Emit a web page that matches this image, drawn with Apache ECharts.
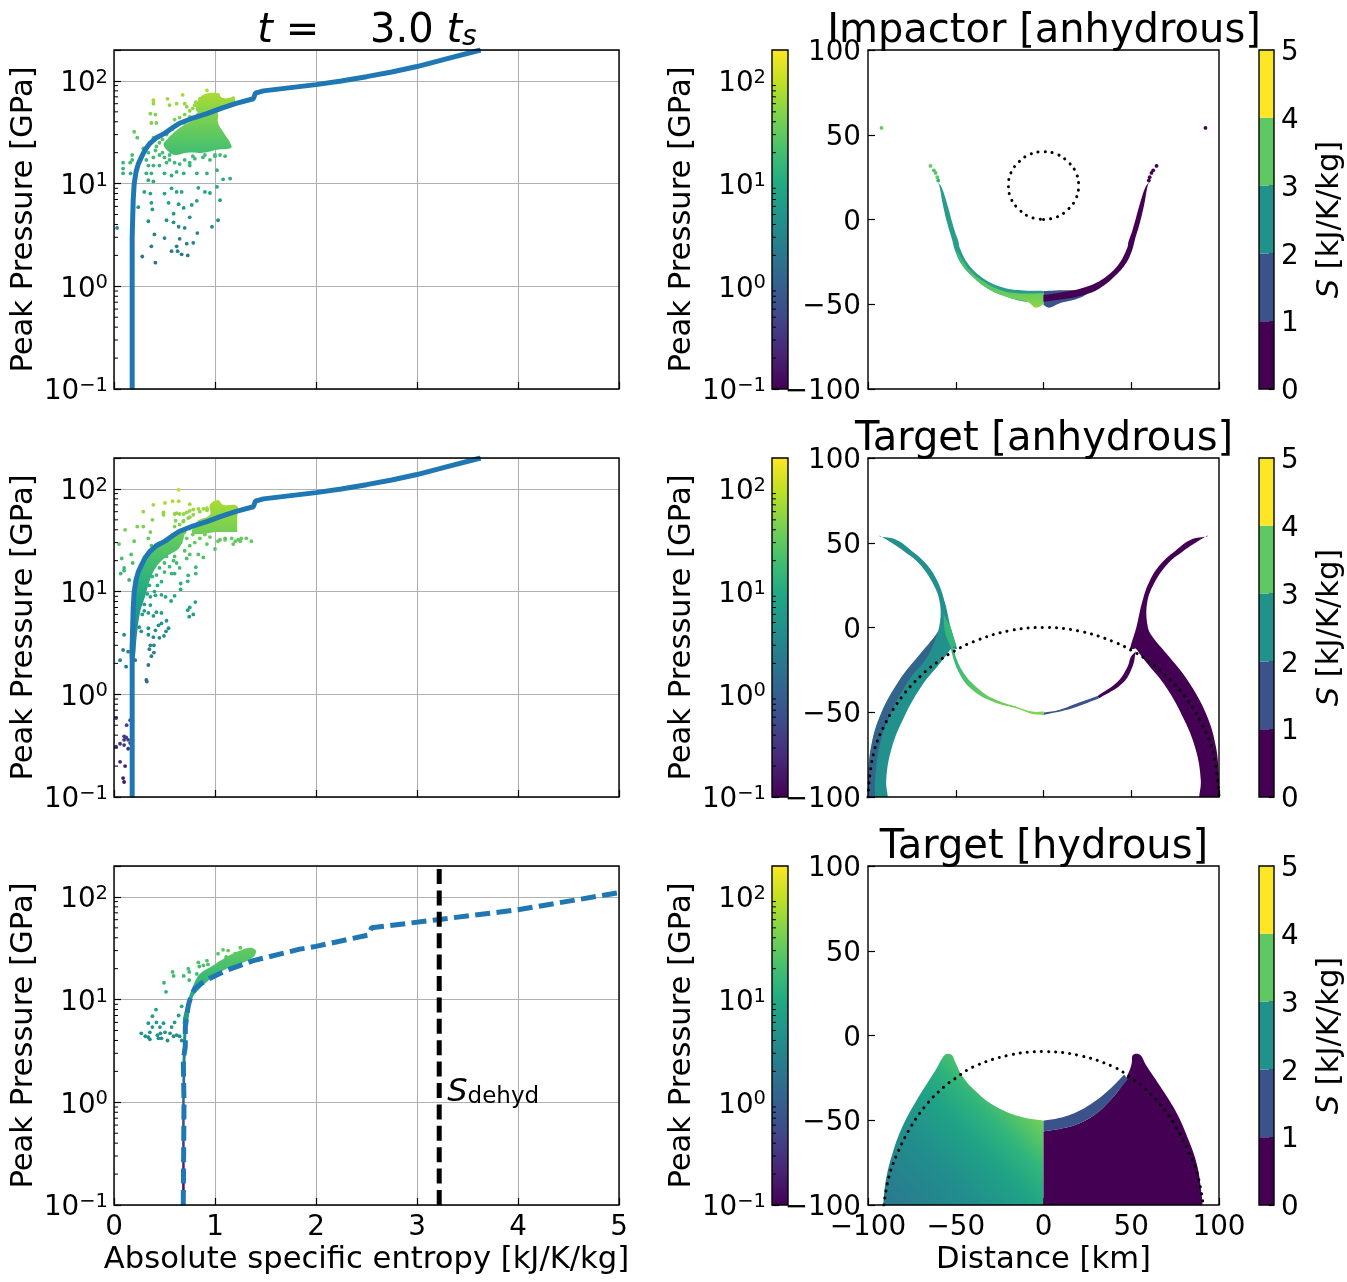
<!DOCTYPE html>
<html>
<head>
<meta charset="utf-8">
<title>Peak pressure and entropy</title>
<style>
html, body { margin: 0; padding: 0; background: #fff; }
#chart { width: 1347px; height: 1282px; }
</style>
<script src="https://cdn.jsdelivr.net/npm/echarts@6/dist/echarts.min.js"></script>
</head>
<body>
<div id="chart"></div>
<script>
// colour tables
var viridis = ['#440154','#482475','#414487','#355f8d','#2a788e','#21918c','#22a884','#44bf70','#7ad151','#bddf26','#fde725'];
var entropyBands = ['#440154','#3b528b','#21918c','#5ec962','#fde725'];
var entropyTicks = [0, 1, 2, 3, 4, 5];
var minorPressure = [.2,.3,.4,.5,.6,.7,.8,.9,2,3,4,5,6,7,8,9,20,30,40,50,60,70,80,90];

var titles = ['Impactor [anhydrous]', 'Target [anhydrous]', 'Target [hydrous]'];

// S [kJ/K/kg], P [GPa]
var hugoniotAnhydrous = [[.18,.1],[.18,3],[.19,6.9],[.2,10],[.218,13],[.24,15.5],[.274,18.3],[.31,21.5],[.356,24.7],[.42,28],[.505,31],[.58,35],[.65,38.7],[.78,43.5],[.92,48],[1.06,54],[1.21,60.5],[1.38,67],[1.4,76],[1.48,80],[1.75,86],[2,92],[2.25,100],[2.5,110],[2.75,122],[3,138],[3.3,165],[3.63,200]];
var hugoniotHydrous = [[.686,.1],[.693,1],[.686,2.6],[.706,3.5],[.706,5.4],[.736,8.8],[.765,11],[.8,12.8],[.86,14.3],[.917,15.5],[1.115,19.3],[1.38,24],[1.84,31],[2,33],[2.52,42.6],[2.55,50],[3.2,60],[4,75],[5,110]];
var dehydEntropy = [[3.22,.1],[3.22,200]];

var impactorPoints = [[.39,65],[.39,60],[.53,67],[.68,73],[.55,58],[.62,60],[.7,60],[.36,48],[.41,47],[.42,39],[.37,39],[.65,44],[.2,32],[.23,28],[.39,28],[.29,22],[.34,20],[.41,21],[.45,25],[.18,19],[.18,17],[.09,16],[.16,16],[.09,14],[.09,12.6],[.165,12.6],[.26,17],[.32,17],[.39,18],[.34,15],[.39,15],[.45,15],[.52,16],[.32,12.6],[.37,12.6],[.5,12.6],[.57,12],[.62,13],[.69,12.6],[.75,15],[.82,12.6],[.92,12.6],[1.02,13.5],[1.15,11.2],[1.08,11],[1.02,9.3],[.34,10.8],[.39,10.5],[.3,8.3],[.36,8],[.5,8],[.57,9],[.62,8.3],[.67,8.3],[.835,9.1],[.9,8.3],[.95,8.1],[1.05,6.9],[.37,6.5],[.24,5.9],[.54,6.5],[.64,6.3],[.77,6.2],[.82,6.8],[.38,5.6],[.59,5.1],[.69,5.8],[.75,4.7],[.34,4.3],[.52,4.4],[.59,4.2],[.64,3.8],[.7,3.7],[1.03,4.4],[.97,3.8],[.03,3.7],[.4,3.2],[.5,2.95],[.65,2.9],[.825,3.3],[.37,2.45],[.62,2.45],[.57,2.2],[.63,2.2],[.72,2.6],[.785,2.65],[.67,2.05],[.73,2],[.28,1.95],[.41,1.7],[.92,81],[.85,67],[.81,62],[1.03,73],[1.08,65],[1.18,68],[.98,62],[.75,45],[.84,52],[.58,34],[.66,24],[.78,18.5],[.9,19],[1,19],[1.1,18.5],[.55,19],[.48,20],[.5,18],[.55,17],[.6,16],[.65,15.5],[.7,17],[.75,16],[.8,17.5],[.88,18],[.95,17],[1,18.5],[1.05,19],[.45,19],[.42,23],[.48,27],[.52,30],[.6,36],[.7,39],[.83,47],[.7,47],[.75,51],[.78,54],[.72,56],[.8,58],[.85,60],[.6,42]];
var impactorDense = [[.505,25.7],[.653,35],[.85,44],[1.02,49],[1.03,39],[1.08,32],[1.15,25],[1.16,22.4],[1.02,21.4],[.88,20],[.72,20],[.6,19],[.52,21.4],[.49,24]];
var impactorTop = [[.82,61],[.88,73],[1.02,76],[1.08,68],[1.18,68],[1.2,62],[1.12,55],[1.02,49],[.9,47],[.82,50]];

var targetPoints = [[.64,98],[.39,70],[.505,73],[.58,76],[.64,76],[.75,71],[.29,60],[.38,50],[.49,59],[.49,56],[.6,57],[.23,43],[.29,43],[.11,40],[.2,31],[.05,29],[.076,21],[.17,23],[.185,19],[.1,17],[.1,16],[.066,15],[.15,13],[.36,38],[.34,33],[.37,28],[.42,25],[.52,22],[.59,20],[.65,17],[.57,15],[.6,15],[.735,14.4],[.81,17.3],[.81,15],[.73,12.6],[.66,12],[.66,10.5],[.6,9.1],[.565,8.1],[.51,8.9],[.47,9.3],[.41,9.2],[.36,8.9],[.805,7.9],[.75,7],[.73,6.6],[.785,6],[.745,5.7],[.36,7.4],[.42,6.3],[.34,6.2],[.39,5.8],[.47,6.2],[.52,5.2],[.47,4.9],[.44,4.7],[.54,4.4],[.515,4.1],[.41,4.2],[.34,4.4],[.34,3.8],[.39,3.6],[.45,3.55],[.495,3.7],[.27,4.1],[.36,3],[.395,3],[.35,2.75],[.395,2.55],[.37,2.35],[.34,1.93],[.32,1.38],[.325,1.33],[.1,3.8],[.09,2.7],[.14,2.6],[.06,2.15],[.12,1.86],[.21,2.15],[.02,.585],[.125,.5],[.16,.56],[.1,.39],[.12,.38],[.1,.36],[.14,.36],[.06,.33],[.02,.31],[.1,.32],[.14,.295],[.16,.335],[.06,.22],[.11,.2],[.09,.153],[.1,.14],[1.31,33],[1.36,31],[1.18,29],[1.23,32],[1.1,33],[1.05,32],[.92,29],[1,26],[.885,21.5],[.835,23],[.75,23],[.72,21],[.62,58],[.65,57],[.69,57],[.72,59],[.75,61],[.785,63],[.835,64],[.885,64],[.92,65],[.6,43],[.65,45],[.685,48],[.735,52],[.785,56],[.85,60],[.92,62],[.65,37],[.7,38],[.75,41],[.8,43],[.95,34],[1.03,31],[1.1,32],[1.165,33],[1.2,31],[1.26,33],[1.25,31],[.61,49],[.69,49],[.75,53],[.4,20],[.45,22],[.5,19],[.55,24],[.6,22],[.62,19],[.45,17],[.38,14],[.42,14.5],[.5,15.5],[.55,17.5],[.47,12.5],[.43,11.5],[.35,11.5],[.4,10],[.33,9.5],[.3,7.5],[.28,6],[.25,4.5],[.3,6.5],[.7,25],[.75,28],[.8,30],[.85,33],[.9,36],[.95,40],[.66,30],[.72,33],[.78,36],[.55,28]];
var targetDense = [[.158,2.16],[.175,5],[.19,10.4],[.225,15],[.307,22],[.42,30],[.49,31.5],[.69,40],[.65,27],[.52,22],[.42,17.5],[.356,13],[.307,8.9],[.257,6.2],[.224,3.6],[.198,2.16]];
var targetTop = [[.95,70],[1.03,78],[1.08,70],[1.22,68],[1.22,52],[1.22,52],[1.22,38],[1.22,38],[1.02,38],[.78,37],[.82,48],[.95,56]];

var hydrousPoints = [[.27,4.7],[.31,4.4],[.34,4.3],[.355,4.1],[.34,5.9],[.355,4.8],[.38,5.4],[.38,6.9],[.416,8],[.42,6],[.43,4.5],[.44,4.2],[.455,5.4],[.46,4.7],[.47,4.2],[.49,5.9],[.505,4.8],[.53,4],[.555,4.7],[.57,5.4],[.59,4.4],[.6,6],[.62,4.5],[.65,4.4],[.64,7],[.67,8.6],[.67,4],[.495,14.6],[.515,11.9],[.58,18.6],[.59,17],[.69,17],[.745,15.5],[.735,20],[.745,18.6],[.835,23],[.845,21],[.92,24],[.885,21.5],[.93,22],[1.03,28],[1.08,30.5],[1.13,30],[1.11,26],[1.2,28],[1.25,32],[.82,17.8]];
var hydrousDense = [[.68,5.9],[.735,10],[.8,14.8],[.85,17.8],[.98,21.5],[1.115,26],[1.25,30],[1.35,32],[1.405,30],[1.38,26],[1.28,23],[1.115,20],[.98,16.6],[.85,12.8],[.77,10],[.725,5.9]];
var hydrousStem = [[.675,.1],[.675,1],[.68,3],[.69,5.9],[.72,5.9],[.71,3],[.7,1],[.7,.1]];

// distance [km]; doubled vertices keep a sharp corner when the outline is smoothed
var impactorBand = [[0,-42.2],[0,-42.2],[12.7,-41.8],[24.1,-39.8],[35.5,-33.9],[43.1,-26],[47.9,-16.2],[48.4,-13.2],[50.7,-6.3],[55.5,11.4],[58,18.9],[60,22],[60,22],[59,18.3],[57.5,9.5],[54.8,-2.4],[52,-12.2],[50.5,-18.1],[46.9,-26],[41.2,-32.9],[31.7,-40.8],[20.3,-45.8],[8.9,-48.7],[0,-49.3],[0,-49.3]];
var impactorBlue = [[0,-42.2],[0,-42.2],[14,-41.8],[25,-43],[20,-46.5],[8.9,-49.5],[3.2,-52],[0,-50.5],[0,-50.5]];
var impactorPurple = [[0,-44.5],[0,-44.5],[10,-43],[24.1,-39.8],[35.5,-33.9],[43.1,-26],[47.9,-16.2],[48.4,-13.2],[50.7,-6.3],[55.5,11.4],[58,18.9],[60,22],[60,22],[59,18.3],[57.5,9.5],[54.8,-2.4],[52,-12.2],[50.5,-18.1],[46.9,-26],[41.2,-32.9],[31.7,-40.8],[20.3,-45.3],[8.9,-47.3],[0,-48.5],[0,-48.5]];
var impactorGreen = [[0,-43.5],[0,-43.5],[-15,-43.5],[-25,-41.5],[-35,-36],[-42,-30],[-46,-24],[-49.8,-18.1],[-46.9,-26],[-41.2,-32.9],[-31.7,-40.8],[-20.3,-45.8],[-8.9,-48.7],[-4.4,-52],[0,-50],[0,-50]];
// x, y, P for the left half dots
var impactorDotsLeft = [[-92.3,54,32],[-64.4,31.6,32],[-62.5,29,26],[-61.5,27.5,24],[-60.5,25,30],[-60,23,14]];
var impactorDotsRight = [[92.3,54],[64.4,31.6],[62.5,29],[61.5,27.5],[60.5,25],[60,23]];
var impactorCircle = [[0,0],[7.7,1.5],[14,6],[18.5,12.3],[20,20],[18.5,27.7],[14,34],[7.7,38.5],[0,40],[-7.7,38.5],[-14,34],[-18.5,27.7],[-20,20],[-18.5,12.3],[-14,6],[-7.7,1.5],[0,0]];

var targetBand = [[93.4,53.7],[93.4,53.7],[84.5,52],[75.4,45.5],[66.9,37.6],[60.2,26.9],[56,14.1],[53,.4],[49.8,-10.4],[49.2,-12.9],[49.2,-12.9],[52.6,-12.4],[52.6,-12.4],[58.3,-20.2],[69.7,-34.9],[80.2,-54.5],[86.8,-72.2],[89.6,-89.8],[88.7,-100],[88.7,-100],[100,-100],[100,-100],[100,-89.8],[98.2,-70.2],[92.5,-50.6],[82,-31],[71.6,-17.3],[62.1,-5.5],[59.4,.4],[59,14.1],[63,25.9],[70.8,37.6],[79.5,45],[87.5,50.6],[93.4,54.3]];
var targetOuterStrip = [[-100,-100],[-100,-100],[-100,-89.8],[-98.2,-70.2],[-92.5,-50.6],[-82,-31],[-71.6,-17.3],[-62.1,-5.5],[-60,-3],[-60,-3],[-66,-17],[-77,-31.5],[-87,-50.6],[-93,-68],[-96,-90],[-96,-100],[-96,-100]];
var targetGreenEdge = [[-53,.4],[-53,.4],[-49.8,-10.4],[-49.8,-10.4],[-52.6,-12.4],[-52.6,-12.4],[-56,-3],[-57,8],[-57,8]];
var targetPurpleU = [[49.8,-17.3],[47.9,-23.1],[42.2,-32],[30.8,-40.4],[30.8,-40.4],[31.7,-41.8],[31.7,-41.8],[45,-32.9],[50.7,-23.1],[52.6,-14],[52.6,-14]];
var targetBlueU = [[30.8,-40.4],[30.8,-40.4],[16.5,-45.7],[8.9,-48.6],[0,-50.2],[0,-50.2],[0,-51.6],[0,-51.6],[16.5,-47.6],[31.7,-41.8],[31.7,-41.8]];
var targetGreenU = [[-52.8,-12.4],[-48,-27],[-40.5,-36.9],[-29,-43.7],[-13.9,-48.2],[-6.3,-51],[0,-51.6],[0,-51.6],[0,-49.6],[0,-49.6],[-6.3,-49.6],[-13.9,-47.3],[-29,-41.8],[-39.5,-33.9],[-46,-26],[-50,-17.3],[-50.9,-13.3]];
var targetArc = [[-100,-100],[-97,-75],[-90,-56.4],[-80,-40],[-70,-28.6],[-60,-20],[-52,-14.6],[-40,-8.4],[-20,-2],[0,0],[20,-2],[40,-8.4],[52,-14.6],[60,-20],[70,-28.6],[80,-40],[90,-56.4],[97,-75],[100,-100]];

var hydrousPurple = [[0,-100],[0,-100],[0,-56.6],[0,-56.6],[8.9,-55.2],[18.4,-52.7],[27.9,-47.7],[37.4,-38.9],[45,-29],[48.8,-21.1],[50.3,-16.2],[50.7,-11.8],[53,-10.7],[55.5,-11.8],[58.3,-17.2],[65.9,-29],[75.4,-44.8],[83,-62.5],[87.7,-77.3],[90.2,-95],[90.6,-100],[90.6,-100]];
var hydrousBlue = [[0,-50.3],[0,-50.3],[8.9,-48.7],[18.4,-45.4],[27.9,-39.8],[37.4,-32],[46,-23],[46,-23],[48,-26],[48,-26],[37.4,-38.9],[27.9,-47.7],[18.4,-52.7],[8.9,-55.2],[0,-56.6],[0,-56.6]];
var hydrousLeft = [[0,-100],[0,-100],[0,-50.3],[0,-50.3],[-13.9,-47.7],[-29,-40.8],[-38.6,-32.9],[-46.2,-24],[-50.9,-14.2],[-51.9,-11.8],[-54.1,-10.7],[-56.6,-11.8],[-61.3,-20.1],[-72.7,-38.9],[-80.3,-53.6],[-86,-69.4],[-89.8,-85.2],[-91.4,-100],[-91.4,-100]];
var hydrousArc = [[-91,-100],[-88,-83],[-83,-69],[-75.4,-53.6],[-65.9,-39.8],[-56.4,-30],[-50.7,-25.6],[-40,-18.5],[-20,-11.7],[0,-9.5],[20,-11.7],[40,-18.5],[50.7,-25.6],[56.4,-30],[65.9,-39.8],[75.4,-53.6],[83,-69],[88,-83],[91,-100]];

var FONT = 'DejaVu Sans';
var TICK = 27.8;
var LABEL = 30.6;
var TITLE = 40;
var DASH = [15, 6.4];
var rowTops = [50, 458, 866];
var rowH = 339;
var cols = [[114, 505], [772, 16], [868, 351], [1259, 17]];

function mirror(pts) { return pts.map(function (p) { return [-p[0], p[1]]; }); }

function pressureT(p) { return (Math.log10(p) + 1) / (Math.log10(200) + 1); }

function lerpColor(t) {
    t = Math.max(0, Math.min(.9999, t)) * (viridis.length - 1);
    var i = Math.floor(t), f = t - i;
    var a = echarts.color.parse(viridis[i]), b = echarts.color.parse(viridis[i + 1]);
    return 'rgb(' + [0, 1, 2].map(function (k) { return Math.round(a[k] + (b[k] - a[k]) * f); }).join(',') + ')';
}

function gradient(x, y, x2, y2, stops) {
    return new echarts.graphic.LinearGradient(x, y, x2, y2, stops.map(function (s) { return { offset: s[0], color: s[1] }; }));
}

// vertical fill following the pressure colour scale over the polygon's range
function pressureFill(pts) {
    var ps = pts.map(function (p) { return p[1]; });
    var hi = pressureT(Math.max.apply(null, ps)), lo = pressureT(Math.min.apply(null, ps));
    var stops = [];
    for (var i = 0; i <= 6; i++) stops.push([i / 6, lerpColor(hi + (lo - hi) * i / 6)]);
    return gradient(0, 0, 0, 1, stops);
}

function polygon(g, pts, fill, z, opts) {
    opts = opts || {};
    return {
        type: 'custom', coordinateSystem: 'cartesian2d', xAxisIndex: g, yAxisIndex: g,
        clip: !opts.noClip, silent: true, z: z, data: [pts[0]],
        renderItem: function (params, api) {
            return {
                type: 'polygon',
                shape: { points: pts.map(function (q) { return api.coord(q); }), smooth: opts.sharp ? 0 : .4 },
                style: { fill: fill || 'none', stroke: opts.stroke || 'none', lineWidth: opts.stroke ? 1.4 : 0 }
            };
        }
    };
}

function dots(g, pts, colorFn, z) {
    return {
        type: 'scatter', xAxisIndex: g, yAxisIndex: g, data: pts, symbolSize: 3.8, z: z, silent: true,
        itemStyle: { color: colorFn, opacity: 1 }
    };
}
function byPressure(params) { return lerpColor(pressureT(params.value[1])); }
function byThird(params) { return lerpColor(pressureT(params.value[2])); }

function line(g, pts, color, width, type, z, cap, smooth) {
    return {
        type: 'line', xAxisIndex: g, yAxisIndex: g, data: pts, showSymbol: false, silent: true, z: z, clip: true,
        smooth: smooth || false,
        lineStyle: { color: color, width: width, type: type || 'solid', cap: cap || 'butt' }
    };
}

function minorTicks(g) {
    return {
        type: 'custom', coordinateSystem: 'cartesian2d', xAxisIndex: g, yAxisIndex: g, silent: true, z: 6,
        data: minorPressure.map(function (p) { return [0, p]; }),
        renderItem: function (params, api) {
            var c = api.coord([api.value(0), api.value(1)]);
            return { type: 'line', shape: { x1: c[0], y1: c[1], x2: c[0] + 4, y2: c[1] }, style: { stroke: '#000', lineWidth: 1 } };
        }
    };
}

var supRich = {
    base: { fontSize: TICK, fontFamily: FONT, color: '#000' },
    sup: { fontSize: 19.5, fontFamily: FONT, color: '#000', padding: [0, 0, 12, 0] }
};
var plainRich = { n: { fontSize: TICK, fontFamily: FONT, color: '#000', padding: [6, 0, 0, 0] } };
function logLabel(v) {
    var e = Math.round(Math.log10(v));
    if (Math.abs(Math.pow(10, e) - v) > 1e-6 * v) return '';
    return '{base|10}{sup|' + String(e).replace('-', '\u2212') + '}';
}
function minusLabel(v) { return String(v).replace('-', '\u2212'); }
function shiftedLabel(v) { return '{n|' + minusLabel(v) + '}'; }

var grids = [], xAxes = [], yAxes = [], series = [];

rowTops.forEach(function (top, r) {
    cols.forEach(function (c, col) {
        var g = r * 4 + col;
        var bottom = r === 2;
        grids.push({ left: c[0], top: top, width: c[1], height: rowH, show: false });

        var tickX = { show: true, inside: true, length: 7, lineStyle: { color: '#000', width: 1.2 } };
        var xa = { gridIndex: g, type: 'value', silent: true };
        if (col === 0) {
            Object.assign(xa, {
                min: 0, max: 5, interval: 1, axisLine: { show: false, onZero: false }, axisTick: tickX,
                splitLine: { show: true, lineStyle: { color: '#b0b0b0', width: 1.1 } },
                axisLabel: { show: bottom, fontSize: TICK, color: '#000', margin: 9, fontFamily: FONT }
            });
            if (bottom) Object.assign(xa, {
                name: 'Absolute specific entropy [kJ/K/kg]', nameLocation: 'middle', nameGap: 40,
                nameTextStyle: { fontSize: LABEL, color: '#000', fontFamily: FONT }
            });
        } else if (col === 2) {
            Object.assign(xa, {
                min: -100, max: 100, interval: 50, axisLine: { show: false, onZero: false }, axisTick: tickX,
                splitLine: { show: false },
                axisLabel: { show: bottom, fontSize: TICK, color: '#000', margin: 9, fontFamily: FONT, formatter: minusLabel }
            });
            if (bottom) Object.assign(xa, {
                name: 'Distance [km]', nameLocation: 'middle', nameGap: 40,
                nameTextStyle: { fontSize: LABEL, color: '#000', fontFamily: FONT }
            });
        } else {
            Object.assign(xa, { min: 0, max: 1, show: false });
        }
        xAxes.push(xa);

        var tickY = { show: true, inside: true, length: 7, lineStyle: { color: '#000', width: 1.2 } };
        var ya = { gridIndex: g, silent: true, axisLine: { show: false, onZero: false } };
        if (col === 0 || col === 1) {
            Object.assign(ya, {
                type: 'log', logBase: 10, min: .1, max: 200, axisTick: tickY,
                splitLine: { show: col === 0, lineStyle: { color: '#b0b0b0', width: 1.1 } },
                axisLabel: { fontSize: TICK, color: '#000', margin: 6, fontFamily: FONT, formatter: logLabel, rich: supRich, padding: [6, 0, 0, 0] },
                name: 'Peak Pressure [GPa]', nameLocation: 'middle', nameRotate: 90, nameGap: 74,
                nameTextStyle: { fontSize: LABEL, color: '#000', fontFamily: FONT }
            });
            series.push(minorTicks(g));
        } else if (col === 2) {
            Object.assign(ya, {
                type: 'value', min: -100, max: 100, interval: 50, axisTick: tickY, splitLine: { show: false },
                axisLabel: { color: '#000', margin: 7, formatter: shiftedLabel, rich: plainRich }
            });
        } else {
            Object.assign(ya, {
                type: 'value', min: 0, max: 5, interval: 1, position: 'right', splitLine: { show: false },
                axisTick: { show: true, inside: true, length: 5, lineStyle: { color: '#000', width: 1.2 } },
                axisLabel: { color: '#000', margin: 7, formatter: shiftedLabel, rich: plainRich },
                name: '{i|S} [kJ/K/kg]', nameLocation: 'middle', nameRotate: 90, nameGap: 41,
                nameTextStyle: {
                    fontSize: LABEL, color: '#000', fontFamily: FONT,
                    rich: { i: { fontSize: LABEL, fontStyle: 'italic', fontFamily: FONT, color: '#000' } }
                }
            });
        }
        yAxes.push(ya);

        // colour bars
        if (col === 1) {
            var bar = [];
            for (var i = 0; i <= 10; i++) bar.push([i / 10, viridis[10 - i]]);
            series.push(polygon(g, [[0, .1], [1, .1], [1, 200], [0, 200]], gradient(0, 0, 0, 1, bar), 2, { sharp: true }));
        }
        if (col === 3) {
            entropyBands.forEach(function (color, k) {
                series.push(polygon(g, [[0, entropyTicks[k]], [1, entropyTicks[k]], [1, entropyTicks[k + 1]], [0, entropyTicks[k + 1]]], color, 2, { sharp: true }));
            });
        }

        // frame on top of everything
        var fx = col === 0 ? [0, 5] : col === 2 ? [-100, 100] : [0, 1];
        var fy = col < 2 ? [.1, 200] : col === 2 ? [-100, 100] : [0, 5];
        series.push(polygon(g, [[fx[0], fy[0]], [fx[1], fy[0]], [fx[1], fy[1]], [fx[0], fy[1]]], null, 20, { stroke: '#000', noClip: true, sharp: true }));
    });
});

// left column: peak pressure against entropy
series.push(polygon(0, impactorDense, pressureFill(impactorDense), 2));
series.push(polygon(0, impactorTop, pressureFill(impactorTop), 2));
series.push(dots(0, impactorPoints, byPressure, 3));
series.push(line(0, hugoniotAnhydrous, '#1f77b4', 5, 'solid', 5));

series.push(polygon(4, targetDense, pressureFill(targetDense), 2));
series.push(polygon(4, targetTop, pressureFill(targetTop), 2));
series.push(dots(4, targetPoints, byPressure, 3));
series.push(line(4, hugoniotAnhydrous, '#1f77b4', 5, 'solid', 5));

series.push(polygon(8, hydrousDense, pressureFill(hydrousDense), 2));
series.push(polygon(8, hydrousStem, pressureFill(hydrousStem), 2, { sharp: true }));
series.push(dots(8, hydrousPoints, byPressure, 3));
series.push(line(8, hugoniotHydrous, '#1f77b4', 5, DASH, 5));
series.push(line(8, dehydEntropy, '#000', 5, DASH, 5));
series.push({
    type: 'scatter', xAxisIndex: 8, yAxisIndex: 8, symbolSize: 0, silent: true, z: 6,
    data: [[3.3, 1.25]],
    itemStyle: { opacity: 1 },
    label: {
        show: true, position: 'right', distance: 0, formatter: '{s|S}{d|dehyd}', opacity: 1,
        rich: {
            s: { fontSize: 32, fontStyle: 'italic', fontFamily: FONT, color: '#000' },
            d: { fontSize: 23, fontFamily: FONT, color: '#000', padding: [10, 0, 0, 0] }
        }
    }
});

// right column: where the shocked material came from
series.push(polygon(2, mirror(impactorBand), '#2a9d8a', 2));
series.push(polygon(2, impactorGreen, gradient(0, 0, 0, 1, [[0, '#35b779'], [.7, '#5ec962'], [1, '#8ed645']]), 3));
series.push(polygon(2, impactorBlue, entropyBands[1], 2));
series.push(polygon(2, impactorPurple, entropyBands[0], 3));
series.push(dots(2, impactorDotsLeft, byThird, 4));
series.push(dots(2, impactorDotsRight, entropyBands[0], 4));
series.push(line(2, impactorCircle, '#000', 3, [.1, 7], 8, 'round', .4));

series.push(polygon(6, mirror(targetBand), '#22908c', 2));
series.push(polygon(6, targetOuterStrip, 'rgba(59,82,139,.7)', 3));
series.push(polygon(6, targetGreenEdge, '#35b779', 3));
series.push(polygon(6, targetBand, entropyBands[0], 2));
series.push(polygon(6, targetPurpleU, entropyBands[0], 3));
series.push(polygon(6, targetBlueU, entropyBands[1], 3));
series.push(polygon(6, targetGreenU, gradient(1, 0, 0, 0, [[0, '#86d549'], [.7, '#5ec962'], [1, '#35b779']]), 3));
series.push(line(6, targetArc, '#000', 3, [.1, 7], 8, 'round', .4));

series.push(polygon(10, hydrousLeft, gradient(0, 1, 1, 0, [[0, '#2a788e'], [.3, '#218e8d'], [.5, '#20a386'], [.62, '#2fb47c'], [.78, '#6ece58'], [1, '#6ece58']]), 2));
series.push(polygon(10, hydrousPurple, entropyBands[0], 2));
series.push(polygon(10, hydrousBlue, entropyBands[1], 3));
series.push(line(10, hydrousArc, '#000', 3, [.1, 7], 8, 'round', .4));

var chartTitles = [{
    text: '{i|t} =    3.0 {i|t}{s|s}', left: 362, top: 7, textAlign: 'center',
    textStyle: {
        fontSize: TITLE, fontWeight: 'normal', fontFamily: FONT, color: '#000',
        rich: {
            i: { fontSize: TITLE, fontStyle: 'italic', fontFamily: FONT, color: '#000' },
            s: { fontSize: 28, fontStyle: 'italic', fontFamily: FONT, color: '#000', padding: [12, 0, 0, 0] }
        }
    }
}];
titles.forEach(function (t, i) {
    chartTitles.push({
        text: t, left: 1039, top: rowTops[i] - 43, textAlign: 'center',
        textStyle: { fontSize: TITLE, fontWeight: 'normal', fontFamily: FONT, color: '#000' }
    });
});

var chart = echarts.init(document.getElementById('chart'), null, { renderer: 'canvas' });
chart.setOption({
    animation: false,
    backgroundColor: '#fff',
    textStyle: { fontFamily: FONT },
    title: chartTitles,
    grid: grids,
    xAxis: xAxes,
    yAxis: yAxes,
    series: series
});
</script>
</body>
</html>
